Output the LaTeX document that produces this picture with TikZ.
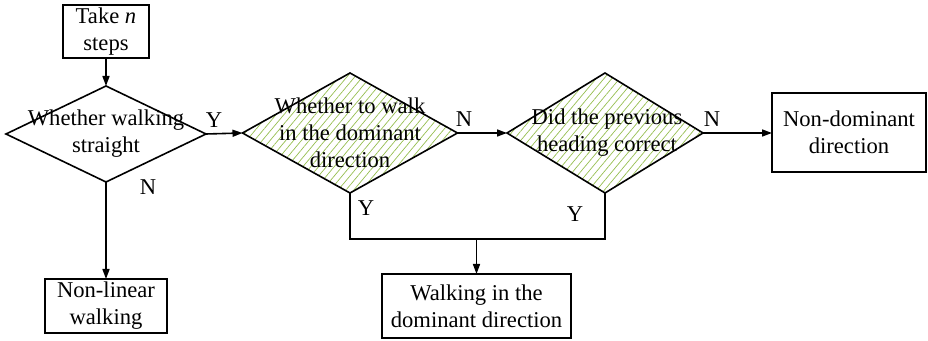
\documentclass[tikz,border=0pt]{standalone}
\usepackage{fontspec}
\setmainfont{Liberation Serif}
\usetikzlibrary{arrows.meta, positioning, shapes.geometric, patterns.meta}
\definecolor{hatchgreen}{RGB}{150,190,80}

\begin{document}
\begin{tikzpicture}[x=0.5pt,y=-0.5pt,
    font=\fontsize{11.3}{13.5}\selectfont,
    box/.style={draw,thick,inner sep=0pt,outer sep=0pt,align=center},
    dia/.style={draw,thick,diamond,inner sep=0pt,outer sep=0pt},
    hatch/.style={pattern={Lines[angle=50,distance=3pt,line width=0.35pt]},pattern color=hatchgreen},
    txt/.style={align=center,inner sep=0pt},
    lab/.style={inner sep=0pt},
    arr/.style={-{Triangle[length=5pt,width=3.5pt]},thick}]
    \useasboundingbox (0,0) rectangle (928,341);
    \node[box,minimum width=43pt,minimum height=26.5pt](take) at (106,31.5){Take \textit{n}\\steps};
    \node[dia,minimum width=100pt,minimum height=48pt](d1) at (106,134){};
    \node[dia,hatch,minimum width=107.5pt,minimum height=60pt](d2) at (350,133){};
    \node[dia,hatch,minimum width=98pt,minimum height=60pt](d3) at (605,133){};
    \node[txt](t1) at (d1.center){Whether walking\\straight};
    \node[txt](t2) at (d2.center){Whether to walk\\in the dominant\\direction};
    \node[txt](t3) at (607,133){Did the previous\\heading correct};
    \node[box,minimum width=77pt,minimum height=39.5pt,text width=77pt](nd) at (849,132.5){Non-dominant\\direction};
    \node[box,minimum width=61pt,minimum height=27pt](nl) at (106,306){Non-linear\\walking};
    \node[box,minimum width=94.5pt,minimum height=32pt](wd) at (476.5,306){Walking in the\\dominant direction};
    \coordinate (mg) at (476.5,239);
    % connectors
    \draw[arr](take)--(d1.north);
    \draw[arr](d1.east)--(d2.west);
    \draw[arr](d2.east)--(d3.west);
    \draw[arr](d3.east)--(d3.east-|nd.west);
    \draw[arr](d1.south)--(nl.north);
    \draw[thick](d2.south)|-(mg)-|(d3.south);
    \draw[arr](mg)--(wd.north);
    % Y/N labels
    \node[lab](y1) at (214,120){Y};
    \node[lab](n1) at (148,187){N};
    \node[lab](n2) at (464,119){N};
    \node[lab](y2) at (366,208){Y};
    \node[lab](n3) at (712,119){N};
    \node[lab](y3) at (575,214){Y};
\end{tikzpicture}
\end{document}
